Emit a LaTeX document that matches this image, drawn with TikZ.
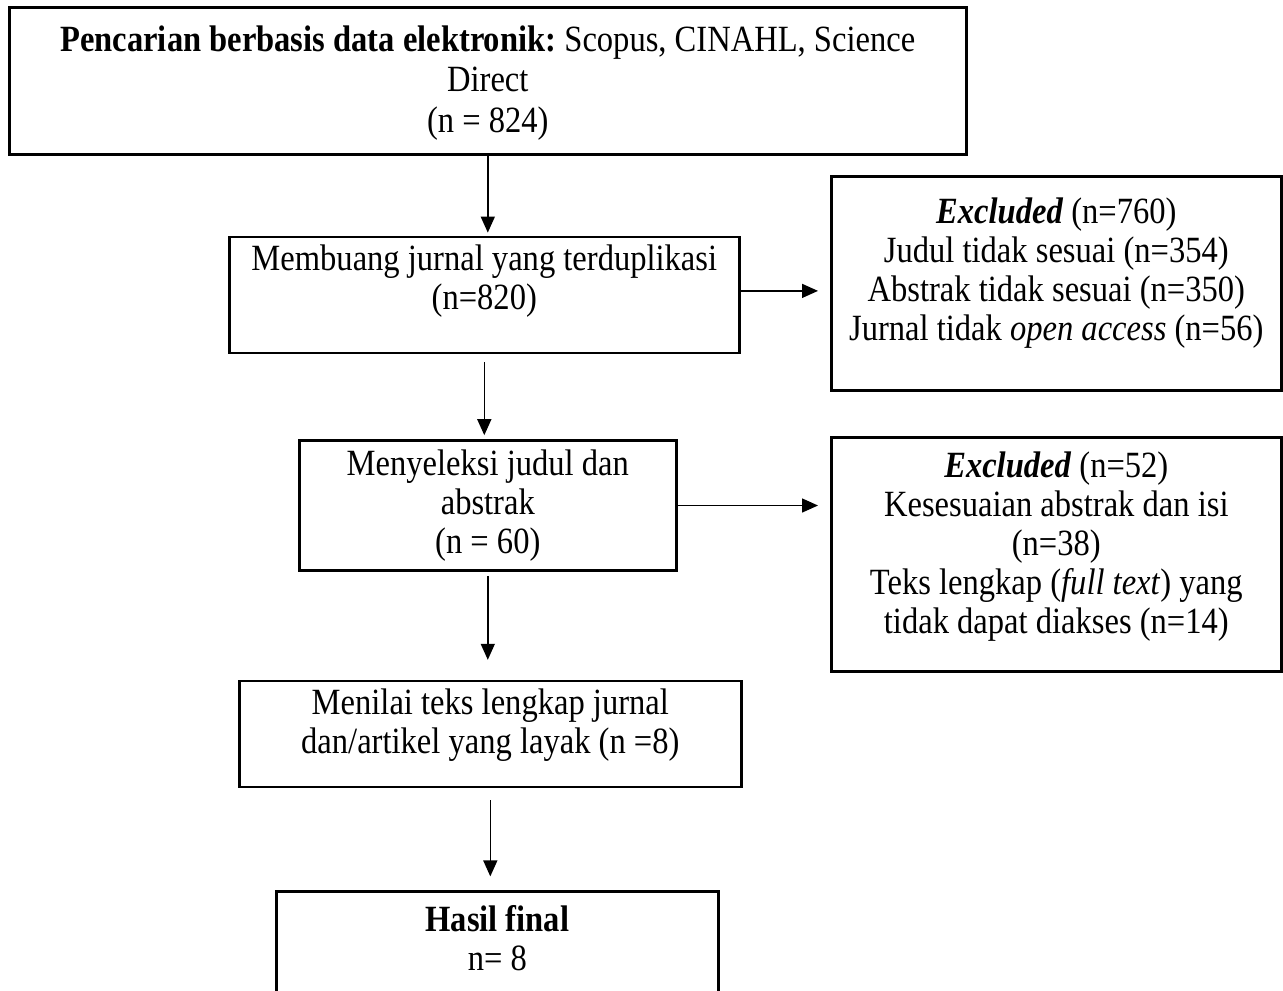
\documentclass[tikz,border=0pt]{standalone}
\usepackage{fontspec}
\setmainfont{Liberation Serif}[FakeStretch=0.88]
\frenchspacing
\usetikzlibrary{positioning, arrows.meta}

\tikzset{
	box/.style={draw, line width=1.3pt, inner sep=0pt, align=flush center, font=\fontsize{18.5}{19.5}\selectfont},
	flowarrow/.style={-{Triangle[length=8pt, width=7pt]}, line width=0.75pt}
}

\begin{document}
\begin{tikzpicture}[x=0.5pt, y=-0.5pt]
		\useasboundingbox (0,0) rectangle (1283,990);
		% nodes %
		\node[box, anchor=north west, text width=478.5pt, text height=22pt, text depth=51.5pt, font=\fontsize{18.5}{20.25}\selectfont] (search) at (8,6)
			{\textbf{Pencarian berbasis data elektronik:} Scopus, CINAHL, Science\\Direct\\(n = 824)};
		\node[box, below=40pt of search, xshift=-1.75pt, text width=255pt, text height=17pt, text depth=41pt] (dup)
			{Membuang jurnal yang terduplikasi\\(n=820)};
		\node[box, below=42.5pt of dup, xshift=1.75pt, text width=188.5pt, text height=17.5pt, text depth=47.5pt] (screen)
			{Menyeleksi judul dan\\abstrak\\(n = 60)};
		\node[box, below=54pt of screen, xshift=1.25pt, text width=251pt, text height=16.5pt, text depth=36.5pt] (assess)
			{Menilai teks lengkap jurnal\\dan/artikel yang layak (n =8)};
		\node[box, below=51pt of assess, xshift=3.5pt, text width=221pt, text height=20pt, text depth=38pt] (final)
			{\textbf{Hasil final}\\n= 8};
		\node[box, anchor=north west, text width=225pt, text height=23.5pt, text depth=83.5pt] (excla) at (830,175)
			{\textbf{\textit{Excluded}} (n=760)\\Judul tidak sesuai (n=354)\\Abstrak tidak sesuai (n=350)\\Jurnal tidak \textit{open access} (n=56)};
		\node[box, anchor=north west, text width=225pt, text height=20pt, text depth=97pt] (exclb) at (830,436)
			{\textbf{\textit{Excluded}} (n=52)\\Kesesuaian abstrak dan isi\\(n=38)\\Teks lengkap (\textit{full text}) yang\\tidak dapat diakses (n=14)};

		% edges %
		\draw[flowarrow, shorten >=1.5pt] (search.south) -- (search.south |- dup.north);
		\draw[flowarrow, shorten <=4pt, shorten >=2pt] (dup.south) -- (dup.south |- screen.north);
		\draw[flowarrow, shorten <=2pt, shorten >=10pt] (screen.south) -- (screen.south |- assess.north);
		\draw[flowarrow, shorten <=6pt, shorten >=7pt] (assess.south) -- (assess.south |- final.north);
		\draw[flowarrow, shorten >=6pt] ([yshift=2pt]dup.east) -- ([yshift=2pt]dup.east -| excla.west);
		\draw[flowarrow, shorten >=6pt] (screen.east) -- (screen.east -| exclb.west);
\end{tikzpicture}
\end{document}
